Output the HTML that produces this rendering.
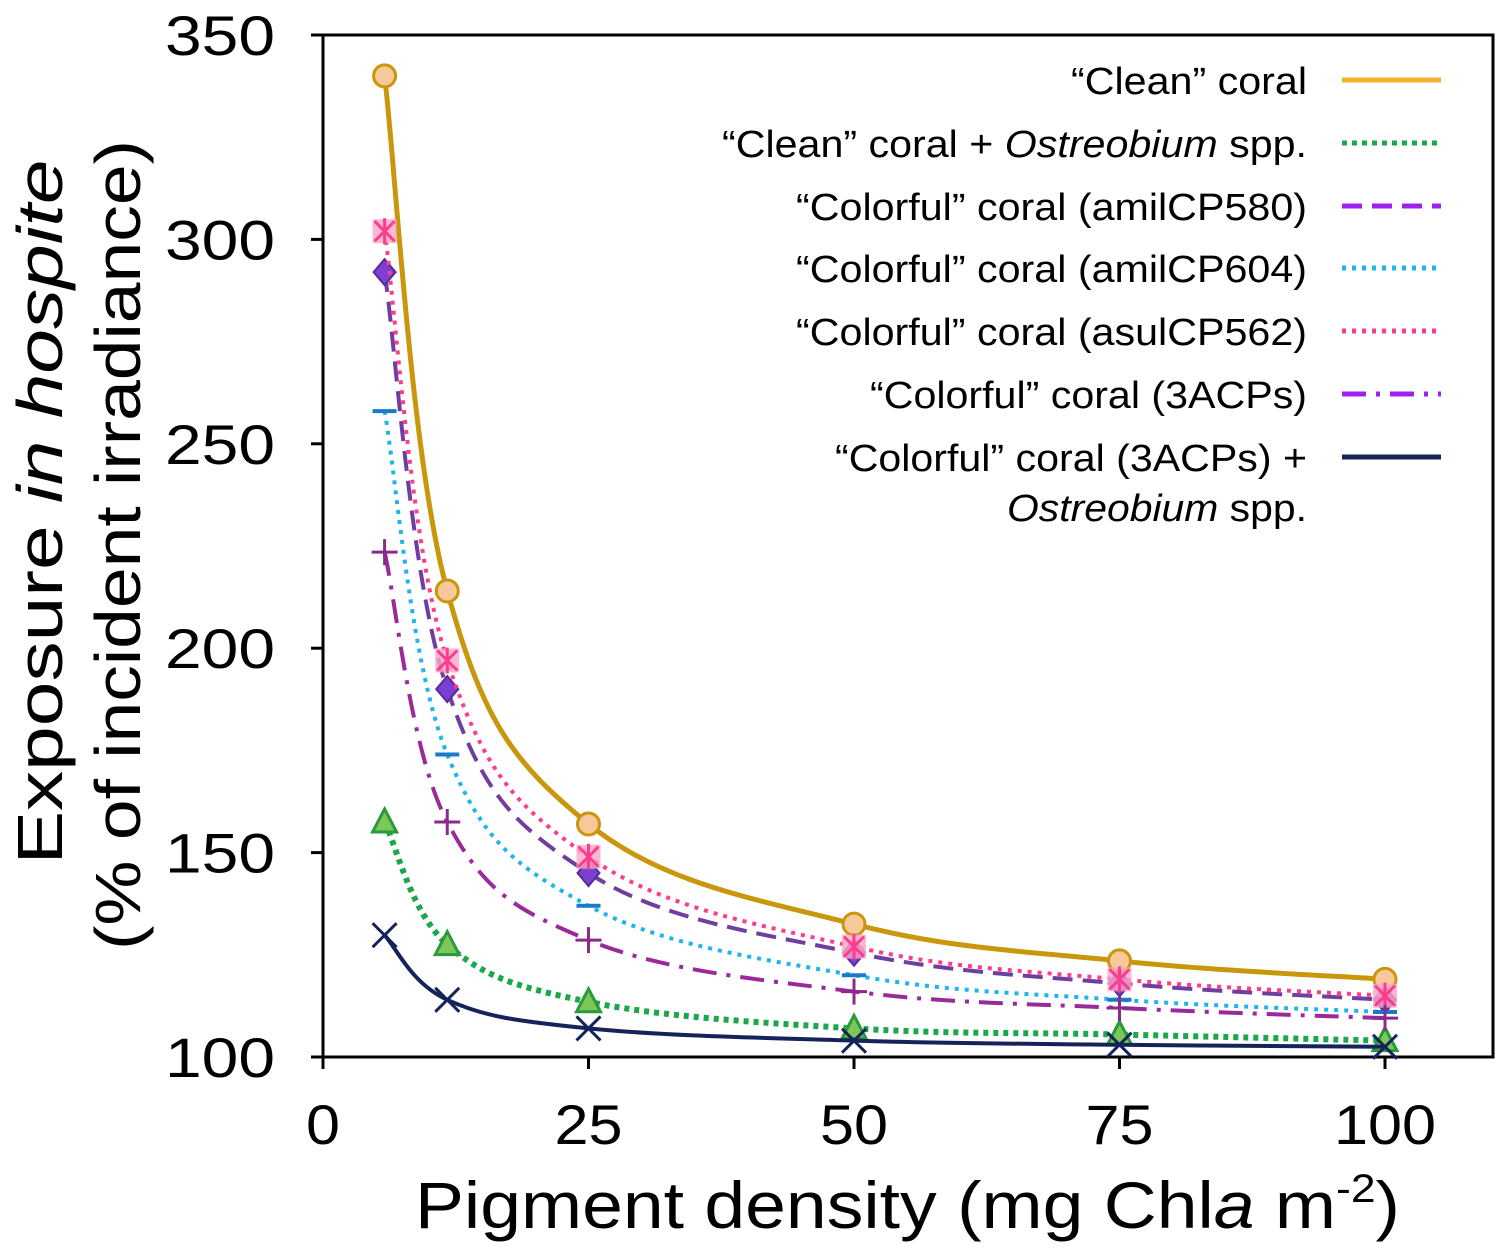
<!DOCTYPE html>
<html><head><meta charset="utf-8"><style>
body{margin:0;background:#fff;}
svg text{font-family:"Liberation Sans",Helvetica,sans-serif;fill:#000;}
</style></head><body>
<svg id="c" width="1508" height="1252" viewBox="0 0 1508 1252" xmlns="http://www.w3.org/2000/svg"></svg>
<script>
const xs=[5.8,11.7,25,50,75,100];
const clean=[340,214,157,132.5,123.5,119];
const cleanOst=[157.5,127.5,113.5,107,105.5,104];
const amil580=[292,190,145,125.5,118,114];
const amil604=[258,174,137,120,114,111];
const asul562=[302,197,149,127,119,115];
const acps=[223.5,157.5,128.6,116,112,109.5];
const acpsOst=[129.8,114,107,104,103,102.5];
const xTicks=[0,25,50,75,100];
const yTicks=[100,150,200,250,300,350];
const legendLabels=['“Clean” coral','“Clean” coral + <tspan font-style="italic">Ostreobium</tspan> spp.','“Colorful” coral (amilCP580)','“Colorful” coral (amilCP604)','“Colorful” coral (asulCP562)','“Colorful” coral (3ACPs)','“Colorful” coral (3ACPs) +'];
const legendLens=[236,585,511,511,511,437,472];
const L=323,R=1493,T=35,B=1057;
const X=v=>L+(v-0)*(1385-323)/100;
const Y=v=>B-(v-100)*(B-T)/250;
const svg=document.getElementById('c');
const NS='http://www.w3.org/2000/svg';
function mk(tag,attrs,parent){const e=document.createElementNS(NS,tag);for(const k in attrs)e.setAttribute(k,attrs[k]);(parent||svg).appendChild(e);return e;}
function path(vals){
  const p=xs.map((x,i)=>[X(x),Y(vals[i])]);
  let d='M'+p[0][0]+','+p[0][1];
  for(let i=0;i<p.length-1;i++){
    const p0=p[Math.max(i-1,0)],p1=p[i],p2=p[i+1],p3=p[Math.min(i+2,p.length-1)];
    const t=0.18;
    const c1=[p1[0]+(p2[0]-p0[0])*t,p1[1]+(p2[1]-p0[1])*t];
    const c2=[p2[0]-(p3[0]-p1[0])*t,p2[1]-(p3[1]-p1[1])*t];
    d+=` C${c1[0]},${c1[1]} ${c2[0]},${c2[1]} ${p2[0]},${p2[1]}`;
  }
  return d;
}
const series=[
 {name:'clean',v:clean,c:'#c9960c',dash:'',w:5,m:'circle',lc:'#f0b030'},
 {name:'clean-ostreobium',v:cleanOst,c:'#1aa84a',dash:'5 5',w:6,m:'tri',lc:'#1aa84a'},
 {name:'amilcp580',v:amil580,c:'#6e3fa0',dash:'20 10',w:4,m:'diamond',lc:'#a020f0'},
 {name:'amilcp604',v:amil604,c:'#1eb4ec',dash:'4 6',w:4,m:'dash',lc:'#1eb4ec'},
 {name:'asulcp562',v:asul562,c:'#ff3c8c',dash:'4 6',w:4,m:'star',lc:'#ff3c8c'},
 {name:'3acps',v:acps,c:'#9a2a9a',dash:'24 10 4 10',w:4,m:'plus',lc:'#a020f0'},
 {name:'3acps-ostreobium',v:acpsOst,c:'#14245a',dash:'',w:4,m:'x',lc:'#14245a'}
];
const box=mk('rect',{x:L,y:T,width:R-L,height:B-T,fill:'none',stroke:'#000','stroke-width':3});


xTicks.forEach(t=>{
  const ln=mk('line',{x1:X(t),x2:X(t),y1:B,y2:B+12,stroke:'#000','stroke-width':3});
  
  
  const s=String(t);
  const tx=mk('text',{x:X(t),y:1144,'font-size':56,'text-anchor':'middle',textLength:34*s.length,lengthAdjust:'spacingAndGlyphs'});tx.textContent=s;
  
  
});
yTicks.forEach(t=>{
  const ln=mk('line',{x1:L-12,x2:L,y1:Y(t),y2:Y(t),stroke:'#000','stroke-width':3});
  
  
  const tx=mk('text',{x:275,y:Y(t)+20,'font-size':56,'text-anchor':'end',textLength:110,lengthAdjust:'spacingAndGlyphs'});tx.textContent=t;
  
  
});
const xt=mk('text',{x:415,y:1228,'font-size':66,textLength:985,lengthAdjust:'spacingAndGlyphs'});
xt.innerHTML='Pigment density (mg Chl<tspan font-style="italic">a</tspan> m<tspan font-size="40" dy="-26">-2</tspan><tspan dy="26">)</tspan>';


const yt=mk('text',{transform:'translate(62,512) rotate(-90)','font-size':64,'text-anchor':'middle',textLength:705,lengthAdjust:'spacingAndGlyphs'});
yt.innerHTML='Exposure <tspan font-style="italic">in hospite</tspan>';


const yt2=mk('text',{transform:'translate(140,545) rotate(-90)','font-size':64,'text-anchor':'middle',textLength:810,lengthAdjust:'spacingAndGlyphs'});
yt2.textContent='(% of incident irradiance)';


function marker(s,x,y,g){
  let e;
  if(s.m==='circle'){e=mk('circle',{cx:x,cy:y,r:11,fill:'#f6c89a',stroke:'#c9960c','stroke-width':3},g);}
  else if(s.m==='tri'){e=mk('polygon',{points:`${x},${y-13} ${x+12},${y+10} ${x-12},${y+10}`,fill:'#7dc75a',stroke:'#2a9a3a','stroke-width':3},g);}
  else if(s.m==='diamond'){e=mk('polygon',{points:`${x},${y-13} ${x+11},${y} ${x},${y+13} ${x-11},${y}`,fill:'#7b3fd1',stroke:'#5a2a9a','stroke-width':2},g);}
  else if(s.m==='dash'){e=mk('line',{x1:x-12,x2:x+12,y1:y,y2:y,stroke:'#1a7ac8','stroke-width':4},g);}
  else if(s.m==='star'){e=mk('rect',{x:x-12,y:y-12,width:24,height:24,fill:'#f7a8c8',opacity:0.8},g);
    mk('path',{d:`M${x-10},${y-10}L${x+10},${y+10}M${x-10},${y+10}L${x+10},${y-10}M${x},${y-13}L${x},${y+13}`,stroke:'#ff3c8c','stroke-width':3},g);}
  else if(s.m==='plus'){e=mk('path',{d:`M${x-13},${y}L${x+13},${y}M${x},${y-13}L${x},${y+13}`,stroke:'#8b2a8b','stroke-width':3},g);}
  else {e=mk('path',{d:`M${x-12},${y-12}L${x+12},${y+12}M${x-12},${y+12}L${x+12},${y-12}`,stroke:'#14245a','stroke-width':3},g);}
  return e;
}
series.forEach(s=>{
  const g=mk('g',{});
  
  
  const p=mk('path',{d:path(s.v),fill:'none',stroke:s.c,'stroke-width':s.w,'stroke-dasharray':s.dash},g);
  
  
  xs.forEach((x,i)=>{
    const m=marker(s,X(x),Y(s.v[i]),g);
    
    
  });
});
const ly=[80,143,206,268,331,394,457];
series.forEach((s,i)=>{
  const g=mk('g',{});
  
  
  const t=mk('text',{x:1307,y:ly[i]+14,'font-size':38,'text-anchor':'end',textLength:legendLens[i],lengthAdjust:'spacingAndGlyphs'},g);
  t.innerHTML=legendLabels[i];
  mk('line',{x1:1342,x2:1441,y1:ly[i],y2:ly[i],stroke:s.lc,'stroke-width':5,'stroke-dasharray':s.dash},g);
});
const t2=mk('text',{x:1307,y:521,'font-size':38,'text-anchor':'end',textLength:300,lengthAdjust:'spacingAndGlyphs'});
t2.innerHTML='<tspan font-style="italic">Ostreobium</tspan> spp.';


</script>
</body></html>
